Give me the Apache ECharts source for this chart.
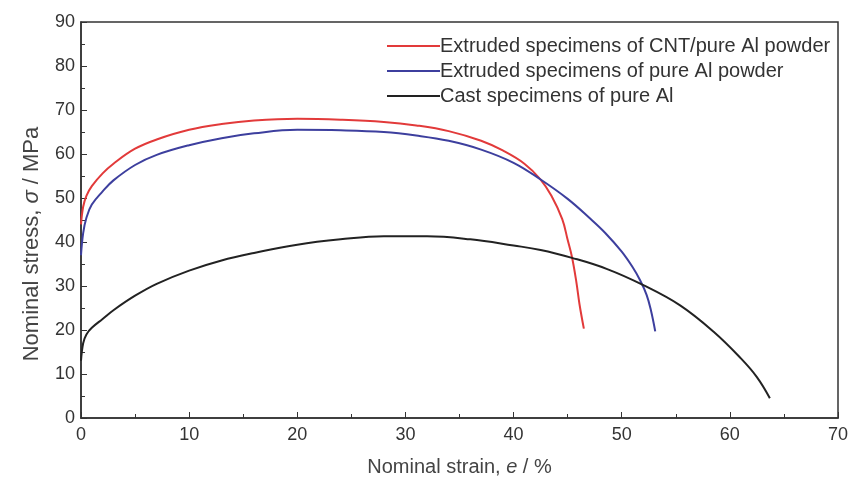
<!DOCTYPE html>
<html>
<head>
<meta charset="utf-8">
<script src="https://cdn.jsdelivr.net/npm/echarts@6/dist/echarts.min.js"></script>
<style>
  html, body { margin: 0; padding: 0; background: #fff; }
  #chart { width: 856px; height: 482px; }
</style>
</head>
<body>
<div id="chart"></div>
<script>
// strain (%) and stress (MPa)
var cntStrain = [0, 0.2, 0.5, 1, 2, 3, 5, 7, 10, 13, 16, 20, 24, 28, 31, 34, 37, 39, 41, 42.5, 43.5, 44.5, 45, 45.4, 45.8, 46.1, 46.5];
var cntStress = [44, 48, 50.5, 52.7, 55.6, 57.8, 61.2, 63.3, 65.5, 66.8, 67.6, 68, 67.8, 67.3, 66.5, 65.2, 63, 60.8, 57.8, 54.2, 50.5, 45.2, 40.5, 36.6, 31, 25.8, 20.3];

var pureStrain = [0, 0.2, 0.5, 1, 2, 3, 5, 7, 10, 13, 16, 20, 24, 28, 31, 34, 37, 40, 42.5, 45, 47, 48.5, 50, 51, 51.7, 52.3, 52.7, 53.1];
var pureStress = [37, 42, 45.5, 48.5, 51.5, 54, 57.5, 59.8, 62, 63.6, 64.7, 65.5, 65.4, 65, 64.2, 63, 61, 58, 54.2, 49.8, 45.5, 42, 37.8, 34.3, 31.3, 28, 24.5, 19.7];

var castStrain = [0, 0.2, 0.5, 1, 2, 3, 5, 7, 10, 13, 16, 20, 24, 28, 32, 36, 40, 42.5, 45.4, 48.6, 52, 55.4, 58.5, 61, 62.5, 63.7];
var castStress = [13, 17, 19, 20.5, 22.5, 24.5, 27.8, 30.5, 33.5, 35.8, 37.5, 39.4, 40.6, 41.3, 41.3, 40.6, 39.2, 38.2, 36.4, 33.9, 30.2, 25.6, 19.6, 13.6, 9.3, 4.5];

var legendNames = [
  'Extruded specimens of CNT/pure Al powder',
  'Extruded specimens of pure Al powder',
  'Cast specimens of pure Al'
];
var lineColors = ['#e23a3a', '#3d3f9e', '#222222'];

function pairs(xs, ys) {
  return xs.map(function (x, i) { return [x, ys[i]]; });
}

var chart = echarts.init(document.getElementById('chart'));

var allSeries = [pairs(cntStrain, cntStress), pairs(pureStrain, pureStress), pairs(castStrain, castStress)];

var font = 'Liberation Sans';

chart.setOption({
  backgroundColor: '#fff',
  animation: false,
  color: lineColors,
  legend: {
    data: legendNames,
    orient: 'vertical',
    left: 382,
    top: 31,
    itemWidth: 53,
    itemHeight: 2,
    itemGap: 5,
    icon: 'rect',
    textStyle: { fontFamily: font, fontSize: 20, color: '#333', padding: [0, 0, 0, -5] }
  },
  grid: {
    left: 81, right: 18, top: 22, bottom: 62,
    show: true, borderColor: '#333', borderWidth: 1.5
  },
  xAxis: {
    type: 'value',
    min: 0, max: 70, interval: 10,
    name: 'Nominal strain, {i|e} / %',
    nameLocation: 'middle',
    nameGap: 39,
    nameTextStyle: {
      fontFamily: font, fontSize: 20, color: '#444',
      rich: { i: { fontStyle: 'italic', fontFamily: font, fontSize: 20, color: '#444' } }
    },
    axisLine: { lineStyle: { color: '#333', width: 1.5 } },
    axisTick: { inside: true, length: 6, lineStyle: { color: '#333' } },
    minorTick: { show: true, splitNumber: 2, length: 4, lineStyle: { color: '#333' } },
    axisLabel: { fontFamily: font, fontSize: 18, color: '#333', margin: 8 },
    splitLine: { show: false }
  },
  yAxis: {
    type: 'value',
    min: 0, max: 90, interval: 10,
    name: 'Nominal stress, {i|σ} / MPa',
    nameLocation: 'middle',
    nameGap: 38,
    nameTextStyle: {
      fontFamily: font, fontSize: 22, color: '#444',
      padding: [0, 48, 0, 0],
      rich: { i: { fontStyle: 'italic', fontFamily: font, fontSize: 22, color: '#444' } }
    },
    axisLine: { show: true, lineStyle: { color: '#333', width: 1.5 } },
    axisTick: { show: true, inside: true, length: 6, lineStyle: { color: '#333' } },
    minorTick: { show: true, splitNumber: 2, length: 4, lineStyle: { color: '#333' } },
    axisLabel: { fontFamily: font, fontSize: 18, color: '#333', margin: 6 },
    splitLine: { show: false }
  },
  series: allSeries.map(function (d, i) {
    return {
      name: legendNames[i],
      type: 'line',
      data: d,
      smooth: 0.4,
      showSymbol: false,
      lineStyle: { color: lineColors[i], width: 2 },
      itemStyle: { color: lineColors[i] }
    };
  })
});
</script>
</body>
</html>
